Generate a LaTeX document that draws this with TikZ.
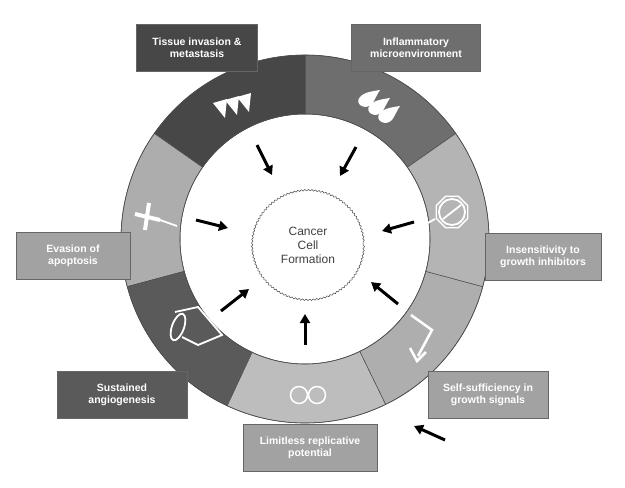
\documentclass[tikz,border=0pt]{standalone}
\usepackage{fontspec}
\setmainfont{Liberation Sans}
\usetikzlibrary{decorations.pathmorphing,arrows.meta,calc}
\definecolor{cA}{HTML}{474747}
\definecolor{cB}{HTML}{6E6E6E}
\definecolor{cC}{HTML}{B4B4B4}
\definecolor{cD}{HTML}{AEAEAE}
\definecolor{cE}{HTML}{BDBDBD}
\definecolor{cF}{HTML}{5A5A5A}
\definecolor{cG}{HTML}{ADADAD}
\definecolor{bx}{HTML}{A2A2A2}
\begin{document}
\begin{tikzpicture}[x=1pt,y=-1pt,
  lab/.style={draw=black!60,line width=0.6pt,text=white,font=\fontsize{10.5}{12}\selectfont\bfseries,align=center,inner sep=0pt,minimum width=#1,minimum height=47},
  arr/.style={-{Triangle[length=9pt,width=10pt]},line width=3pt},
  ic/.style={white,line width=1.8pt}]
\fill[white] (0,0) rectangle (625,488);
\coordinate (C) at (305,239);
\def\seg#1#2#3{\fill[#3,draw=black!70,line width=0.5pt] ($(C)+(-#1:184)$) arc[start angle=-#1,end angle=-#2,radius=184] -- ($(C)+(-#2:125)$) arc[start angle=-#2,end angle=-#1,radius=125] -- cycle;}
\seg{35}{90}{cB}
\seg{90}{145}{cA}
\seg{145}{195}{cG}
\seg{195}{245}{cF}
\seg{245}{296}{cE}
\seg{296}{345}{cD}
\seg{345}{395}{cC}
\draw[black!70,line width=0.6pt] (C) circle[radius=184];
\draw[black!70,line width=0.6pt] (C) circle[radius=125];
% cloud
\node[draw=none,align=center,font=\fontsize{12}{14}\selectfont,text=black!75] (cell) at (308,245) {Cancer\\Cell\\Formation};
\draw[black!70,line width=0.5pt,decorate,decoration={bumps,segment length=7pt,amplitude=1.6pt}] (308,245) ellipse[x radius=55,y radius=54];
% labels
\node[lab=121,fill=cA] (tis) at (197,48) {Tissue invasion \&\\metastasis};
\node[lab=129,fill=cB] (inf) at (416,48) {Inflammatory\\microenvironment};
\node[lab=114,fill=bx] (eva) at (73,256) {Evasion of\\apoptosis};
\node[lab=116,fill=bx] (ins) at (543,257) {Insensitivity to\\growth inhibitors};
\node[lab=120,fill=bx] (sel) at (488,395) {Self-sufficiency in\\growth signals};
\node[lab=134,fill=bx] (lim) at (310,448) {Limitless replicative\\potential};
\node[lab=130,fill=cF] (sus) at (122,395) {Sustained\\angiogenesis};
% arrows
\coordinate (a1s) at (257,145); \coordinate (a1e) at (272,175);
\coordinate (a2s) at (356,147); \coordinate (a2e) at (340,176);
\coordinate (a3s) at (196,220); \coordinate (a3e) at (228,228);
\coordinate (a4s) at (414,222); \coordinate (a4e) at (382,231);
\coordinate (a5s) at (221,311); \coordinate (a5e) at (249,289);
\coordinate (a6s) at (305,345); \coordinate (a6e) at (305,314);
\coordinate (a7s) at (398,304); \coordinate (a7e) at (371,282);
\coordinate (a8s) at (445,440); \coordinate (a8e) at (414,426);
\foreach \i in {1,...,8}{\draw[arr] (a\i s) -- (a\i e);}
% icons
\foreach \dx/\dy in {0/0,12/-3,24/-6}{\fill[white] (213+\dx,103+\dy) -- (227+\dx,99+\dy) -- (225+\dx,118+\dy) -- cycle;}
\foreach \dx/\dy in {0/0,10/8,20/16}{\fill[white] (360+\dx,97+\dy) .. controls (354+\dx,104+\dy) and (365+\dx,111+\dy) .. (372+\dx,104+\dy) .. controls (375+\dx,100+\dy) and (377+\dx,94+\dy) .. (380+\dx,90+\dy) .. controls (374+\dx,91+\dy) and (364+\dx,92+\dy) .. (360+\dx,97+\dy) -- cycle;}
\draw[ic] (452,212) circle[radius=13];
\draw[ic] (443,219) -- (461,205);
\draw[ic] (435,219) -- (426,224);
\draw[ic,line width=1.4pt] (452,212) +(22.5:17) -- +(67.5:17) -- +(112.5:17) -- +(157.5:17) -- +(202.5:17) -- +(247.5:17) -- +(292.5:17) -- +(337.5:17) -- cycle;
\draw[ic,line width=4pt] (135,214) -- (160,220);
\draw[ic,line width=4pt] (149,203) -- (145,230);
\draw[ic] (160,220) -- (177,226);
\draw[ic] (175,312) -- (198,307) -- (222,335) -- (198,345) -- (182,337);
\draw[ic] (178,327) ellipse[x radius=6,y radius=14,rotate=-20];
\draw[ic,line width=1.5pt] (299,395) circle[radius=8.5];
\draw[ic,line width=1.5pt] (317,395) circle[radius=8.5];
\draw[ic,line width=2.5pt] (411,315) -- (432,330) -- (418,356);
\draw[ic,line width=2.5pt] (410,348) -- (417,361) -- (426,352);
\end{tikzpicture}
\end{document}
